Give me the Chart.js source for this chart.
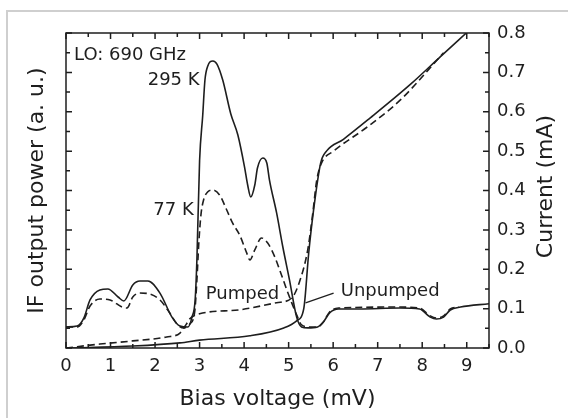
<!DOCTYPE html>
<html>
<head>
<meta charset="utf-8">
<script src="https://cdn.jsdelivr.net/npm/chart.js@4.4.1/dist/chart.umd.min.js"></script>
<style>
  html, body { margin: 0; padding: 0; background: #fff; }
  canvas { display: block; }
</style>
</head>
<body>
<canvas id="grafico" width="568" height="418"></canvas>
<script>
// IF output power (a. u.), 295 K load (solid)
const v295 = [0,0.25,0.4,0.54,0.76,0.94,1.17,1.3,1.5,1.66,1.84,2.11,2.38,2.56,2.74,2.83,2.9,2.94,3.0,3.07,
  3.12,3.18,3.3,3.39,3.52,3.7,3.86,4.01,4.08,4.15,4.24,4.3,4.42,4.51,4.57,4.73,4.87,5.02,5.18,5.29,
  5.43,5.65,5.78,5.92,6.12,6.59,7.49,7.94,8.18,8.32,8.48,8.63,8.86,9.5];
const p295 = [1.07,1.12,1.52,2.44,2.95,3.0,2.59,2.39,3.2,3.4,3.4,2.79,1.57,1.12,1.07,1.57,2.44,4.5,9.5,11.8,
  13.6,14.3,14.58,14.42,13.61,11.9,10.82,9.19,8.28,7.67,8.28,9.14,9.65,9.4,8.53,6.86,5.13,3.45,1.57,1.07,
  1.02,1.07,1.32,1.78,1.98,1.98,2.03,1.98,1.57,1.47,1.57,1.93,2.08,2.25];

// IF output power (a. u.), 77 K load (dashed)
const v77 = [0,0.25,0.4,0.54,0.76,0.99,1.26,1.37,1.5,1.66,1.88,2.11,2.33,2.51,2.65,2.78,2.89,2.94,2.98,3.03,
  3.09,3.18,3.3,3.45,3.61,3.74,3.9,4.06,4.13,4.24,4.39,4.53,4.69,4.8,4.96,5.07,5.18,5.29,5.47,5.65,
  5.78,5.92,6.12,7.49,7.94,8.18,8.32,8.48,8.63,8.83];
const p77 = [1.07,1.07,1.42,2.13,2.49,2.44,2.08,2.03,2.59,2.79,2.74,2.44,1.78,1.17,1.02,1.22,1.83,3.45,5.23,6.75,
  7.52,7.92,8.02,7.77,7.01,6.35,5.74,4.82,4.47,4.98,5.59,5.33,4.62,3.96,2.95,2.29,1.68,1.17,1.07,1.07,
  1.32,1.83,2.03,2.08,2.03,1.63,1.52,1.63,1.98,2.08];

// corriente (mA) sin bombeo (solid) y bombeada (dashed)
const vSin = [0,1.5,2.56,3.0,4.13,4.89,5.18,5.34,5.45,5.56,5.72,5.85,6.23,6.84,7.74,8.41,8.99];
const iSin = [0,0.005,0.013,0.02,0.031,0.051,0.069,0.10,0.24,0.35,0.47,0.5,0.53,0.585,0.67,0.74,0.8];
const vBom = [0,0.76,1.5,2.26,2.56,2.7,2.78,3.0,3.9,4.73,5.07,5.25,5.43,5.54,5.63,5.74,6.01,6.75,7.51,8.48];
const iBom = [0,0.01,0.018,0.028,0.038,0.06,0.074,0.087,0.097,0.115,0.127,0.17,0.25,0.34,0.425,0.47,0.5,0.56,0.63,0.75];

const xTicks = [0,1,2,3,4,5,6,7,8,9];
const currentTicks = [0,0.1,0.2,0.3,0.4,0.5,0.6,0.7,0.8];

// textos sobre el grafico (en unidades de datos: mV, a. u.)
const notasTexto = ['LO: 690 GHz', '295 K', '77 K', 'Pumped', 'Unpumped'];
const notasX = [0.18, 3.0, 2.87, 3.14, 6.17];
const notasY = [14.63, 13.36, 6.75, 2.49, 2.64];
const notasAlin = ['left', 'right', 'right', 'left', 'left'];
const flecha = [6.01, 2.79, 5.38, 2.29];

const FUENTE = 'DejaVu Sans';
const TINTA = '#1e1e1e';
Chart.defaults.font.family = FUENTE;
Chart.defaults.color = TINTA;

function puntos(xs, ys){
    return xs.map((v, i) => ({x: v, y: ys[i]}));
}

function serie(xs, ys, eje, guiones){
    return {
        data: puntos(xs, ys),
        yAxisID: eje,
        borderColor: TINTA,
        borderWidth: 1.6,
        borderDash: guiones ? [7, 4] : [],
        pointRadius: 0,
        fill: false,
        cubicInterpolationMode: 'monotone'
    };
}

const marcas = {
    id: 'marcas',
    beforeDraw(chart){
        const ctx = chart.ctx;
        ctx.save();
        ctx.strokeStyle = '#cfcfcf';
        ctx.lineWidth = 2;
        ctx.beginPath();
        ctx.moveTo(7, chart.height);
        ctx.lineTo(7, 11);
        ctx.lineTo(chart.width, 11);
        ctx.stroke();
        ctx.restore();
    },
    afterDraw(chart){
        const {ctx, chartArea: a} = chart;
        const {x, y, y1} = chart.scales;
        ctx.save();
        ctx.strokeStyle = TINTA;
        ctx.lineWidth = 1.5;
        ctx.strokeRect(a.left, a.top, a.right - a.left, a.bottom - a.top);

        ctx.beginPath();
        for (let k = 0; k <= 19; k++){
            const px = x.getPixelForValue(k * 0.5);
            const l = k % 2 === 0 ? 6 : 4;
            ctx.moveTo(px, a.bottom); ctx.lineTo(px, a.bottom - l);
            ctx.moveTo(px, a.top); ctx.lineTo(px, a.top + l);
        }
        for (let k = 0; k <= 16; k++){
            const py = y.getPixelForValue(k);
            const l = k % 2 === 0 ? 6 : 4;
            ctx.moveTo(a.left, py); ctx.lineTo(a.left + l, py);
        }
        for (let k = 0; k <= 16; k++){
            const py = y1.getPixelForValue(k * 0.05);
            const l = k % 2 === 0 ? 6 : 4;
            ctx.moveTo(a.right, py); ctx.lineTo(a.right - l, py);
        }
        ctx.stroke();

        // flecha de "Unpumped"
        ctx.lineWidth = 1.3;
        ctx.beginPath();
        ctx.moveTo(x.getPixelForValue(flecha[0]), y.getPixelForValue(flecha[1]));
        ctx.lineTo(x.getPixelForValue(flecha[2]), y.getPixelForValue(flecha[3]));
        ctx.stroke();

        ctx.fillStyle = TINTA;
        ctx.font = '18px "' + FUENTE + '"';
        ctx.textBaseline = 'alphabetic';
        for (let i = 0; i < notasTexto.length; i++){
            ctx.textAlign = notasAlin[i];
            ctx.fillText(notasTexto[i], x.getPixelForValue(notasX[i]), y.getPixelForValue(notasY[i]));
        }

        // titulo del eje derecho, leido de abajo hacia arriba
        ctx.font = '22px "' + FUENTE + '"';
        ctx.textAlign = 'center';
        ctx.textBaseline = 'middle';
        ctx.translate(y1.right - 22, (a.top + a.bottom) / 2 - 4);
        ctx.rotate(-Math.PI / 2);
        ctx.fillText('Current (mA)', 0, 0);
        ctx.restore();
    }
};

const ctx = document.getElementById('grafico').getContext('2d');
const grafico = new Chart(ctx, {
    type: 'line',
    data: {
        datasets: [
            serie(v295, p295, 'y', false),
            serie(v77, p77, 'y', true),
            serie(vSin, iSin, 'y1', false),
            serie(vBom, iBom, 'y1', true)
        ]
    },
    options: {
        responsive: false,
        devicePixelRatio: 1,
        animation: false,
        layout: { padding: { top: 33, left: 0, right: 0, bottom: 0 } },
        plugins: {
            legend: { display: false },
            tooltip: { enabled: false }
        },
        scales: {
            x: {
                type: 'linear',
                position: 'bottom',
                min: 0,
                max: 9.5,
                afterBuildTicks: s => { s.ticks = xTicks.map(v => ({value: v})); },
                afterFit: s => { s.height = 70; },
                grid: { display: false, drawTicks: false },
                border: { display: false },
                ticks: { font: { size: 18 }, color: TINTA, padding: 8, maxRotation: 0 },
                title: {
                    display: true,
                    text: 'Bias voltage (mV)',
                    font: { size: 22 },
                    color: TINTA,
                    padding: { top: 0, bottom: 6 }
                }
            },
            y: {
                type: 'linear',
                position: 'left',
                min: 0,
                max: 16,
                afterFit: s => { s.width = 66; },
                grid: { display: false, drawTicks: false },
                border: { display: false },
                ticks: { display: false },
                title: {
                    display: true,
                    text: 'IF output power (a. u.)',
                    font: { size: 22 },
                    color: TINTA,
                    padding: { top: 24, bottom: 0 }
                }
            },
            y1: {
                type: 'linear',
                position: 'right',
                min: 0,
                max: 0.8,
                afterBuildTicks: s => { s.ticks = currentTicks.map(v => ({value: v})); },
                afterFit: s => { s.width = 79; },
                grid: { display: false, drawTicks: false },
                border: { display: false },
                ticks: {
                    font: { size: 18 },
                    color: TINTA,
                    padding: 8,
                    callback: v => v.toFixed(1)
                }
            }
        }
    },
    plugins: [marcas]
});
</script>
</body>
</html>
